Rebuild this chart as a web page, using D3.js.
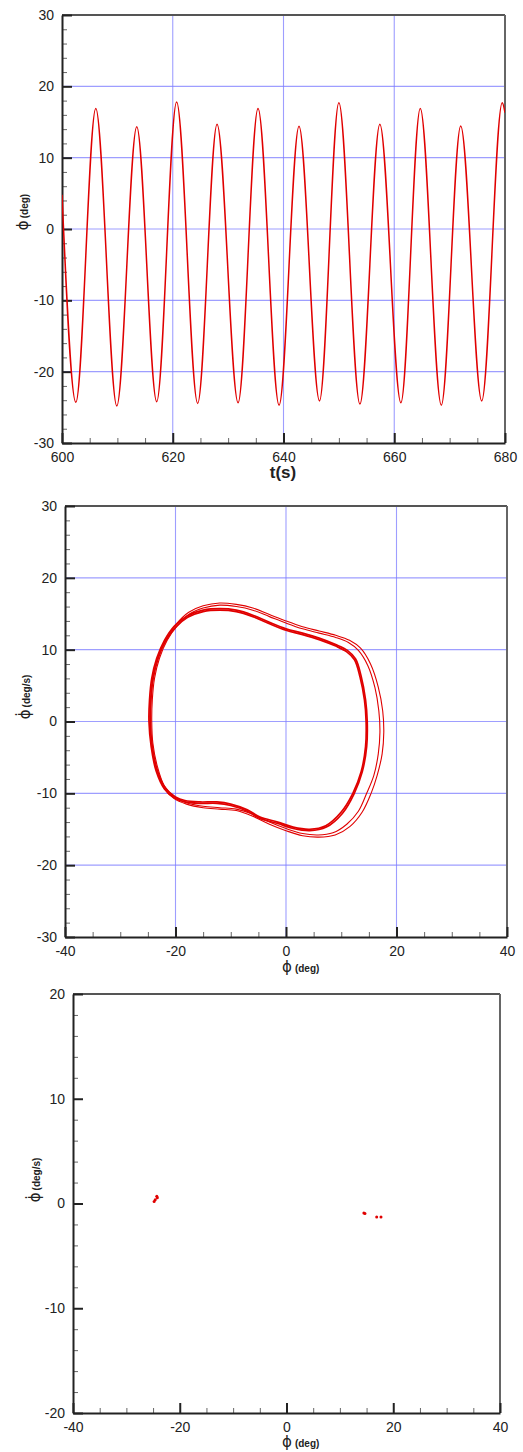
<!DOCTYPE html>
<html>
<head>
<meta charset="utf-8">
<script src="https://cdn.jsdelivr.net/npm/d3@7"></script>
<style>
  body { margin: 0; background: #fff; }
  svg { display: block; }
  .tick text { font-family: "Liberation Sans", Arial, sans-serif; font-size: 14px; fill: #222; }
</style>
</head>
<body>
<svg id="fig" width="523" height="1452"></svg>
<script>
// ---- Roll angle time history: successive extrema (t in s, phi in deg) ----
const rollTime = [600, 602.5, 606.1, 609.9, 613.5, 617.1, 620.7, 624.5, 628.0, 631.8, 635.4, 639.2,
                  642.8, 646.5, 650.0, 653.8, 657.4, 661.2, 664.7, 668.5, 672.0, 675.8, 679.5, 680];
const rollAngle = [4.8, -24.3, 16.9, -24.8, 14.35, -24.2, 17.8, -24.45, 14.7, -24.35, 16.9, -24.7,
                   14.4, -24.1, 17.7, -24.55, 14.7, -24.35, 16.9, -24.7, 14.45, -24.1, 17.7, 16.3];

// ---- Phase-plane orbits (phi, phi-dot) ----
const innerOrbitA = [
  [-24.6, 0], [-24.5, 3], [-24.1, 6], [-23.2, 8.8], [-21.8, 11.2], [-20.0, 13.1], [-17.8, 14.5],
  [-15.0, 15.3], [-12.0, 15.5], [-9.0, 15.3], [-6.0, 14.6], [-3.0, 13.6], [0.0, 12.7], [3.0, 12.1],
  [6.0, 11.4], [9.0, 10.5], [11.0, 9.7], [12.4, 8.6], [13.4, 6.2], [14.2, 3.0], [14.5, 0.0],
  [14.4, -3.5], [13.6, -7.0], [12.1, -10.0], [10.0, -12.6], [7.2, -14.5], [4.3, -15.0], [1.3, -14.7],
  [-1.5, -14.0], [-4.7, -13.3], [-7.0, -12.3], [-10.0, -11.5], [-12.5, -11.2], [-15.6, -11.2],
  [-18.3, -11.0], [-20.0, -10.5], [-21.8, -9.3], [-23.3, -6.8], [-24.2, -3.5]
];
const innerOrbitB = [
  [-24.8, 0], [-24.7, 3], [-24.3, 6], [-23.4, 8.8], [-22.0, 11.3], [-20.2, 13.3], [-17.9, 14.7],
  [-15.0, 15.5], [-12.0, 15.7], [-9.0, 15.5], [-6.0, 14.8], [-3.0, 13.8], [0.0, 12.9], [3.0, 12.3],
  [6.0, 11.6], [9.0, 10.7], [11.1, 9.9], [12.6, 8.7], [13.6, 6.3], [14.4, 3.0], [14.7, 0.0],
  [14.6, -3.5], [13.8, -7.0], [12.3, -10.1], [10.2, -12.8], [7.3, -14.7], [4.3, -15.2], [1.3, -14.9],
  [-1.5, -14.2], [-4.7, -13.5], [-7.0, -12.5], [-10.0, -11.7], [-12.5, -11.4], [-15.6, -11.4],
  [-18.3, -11.2], [-20.1, -10.7], [-22.0, -9.4], [-23.5, -6.9], [-24.4, -3.5]
];
const outerOrbitA = [
  [-24.3, 0], [-24.2, 3], [-23.8, 6], [-22.9, 8.8], [-21.5, 11.3], [-19.6, 13.4], [-17.4, 15.0],
  [-15.0, 15.8], [-12.0, 16.2], [-9.0, 16.0], [-6.0, 15.5], [-3.0, 14.6], [0.0, 13.7], [3.0, 12.9],
  [6.0, 12.3], [9.0, 11.7], [11.3, 11.0], [13.1, 9.9], [14.8, 7.8], [16.1, 4.7], [16.8, 1.5],
  [17.0, -1.5], [16.7, -4.5], [15.9, -7.5], [14.6, -10.0], [13.1, -12.5], [11.0, -14.3], [8.5, -15.5],
  [5.8, -15.8], [3.0, -15.6], [0.0, -14.9], [-3.0, -14.0], [-6.0, -12.9], [-9.0, -12.2], [-12.0, -12.0],
  [-15.0, -11.8], [-18.0, -11.3], [-20.2, -10.5], [-22.0, -9.0], [-23.3, -6.2], [-24.1, -3.0]
];
const outerOrbitB = [
  [-24.5, 0], [-24.4, 3], [-24.0, 6], [-23.1, 8.8], [-21.7, 11.4], [-19.8, 13.6], [-17.6, 15.2],
  [-15.0, 16.1], [-12.0, 16.5], [-9.0, 16.3], [-6.0, 15.8], [-3.0, 14.9], [0.0, 14.0], [3.0, 13.2],
  [6.0, 12.6], [9.0, 12.0], [11.5, 11.3], [13.5, 10.2], [15.3, 8.0], [16.7, 4.8], [17.5, 1.5],
  [17.7, -1.5], [17.4, -4.5], [16.5, -7.5], [15.4, -10.0], [13.8, -12.6], [11.6, -14.6], [8.9, -15.8],
  [5.9, -16.1], [3.0, -15.9], [0.0, -15.2], [-3.0, -14.3], [-6.0, -13.2], [-9.0, -12.4], [-12.0, -12.2],
  [-15.0, -12.0], [-18.0, -11.5], [-20.3, -10.7], [-22.2, -9.1], [-23.5, -6.3], [-24.3, -3.0]
];

// ---- Poincare section points (phi, phi-dot) ----
const sectionPhi = [-24.8, -24.6, -24.3, -24.2, 14.5, 14.7, 16.9, 17.7];
const sectionRate = [0.2, 0.35, 0.7, 0.55, -0.9, -0.95, -1.3, -1.3];

// ---- Tick values ----
const timeMajor = [600, 620, 640, 660, 680];
const timeMinor = [605, 610, 615, 625, 630, 635, 645, 650, 655, 665, 670, 675];
const angleMajor = [-30, -20, -10, 0, 10, 20, 30];
const angleMinor = [-28, -26, -24, -22, -18, -16, -14, -12, -8, -6, -4, -2, 2, 4, 6, 8, 12, 14, 16, 18, 22, 24, 26, 28];
const phiMajor = [-40, -20, 0, 20, 40];
const phiMinor = [-35, -30, -25, -15, -10, -5, 5, 10, 15, 25, 30, 35];
const rateMajor = [-20, -10, 0, 10, 20];
const rateMinor = [-18, -16, -14, -12, -8, -6, -4, -2, 2, 4, 6, 8, 12, 14, 16, 18];

const RED = "#e00000";
const GRID = "#7d7dff";
const svg = d3.select("#fig");

function drawFrame(g, x, y, o) {
  const [xa, xb] = x.range();
  const [yb, ya] = y.range();
  const [dx0, dx1] = x.domain();
  const [dy0, dy1] = y.domain();
  if (o.grid) {
    g.append("g").selectAll("line").data(o.xMajor.filter(v => v > dx0 && v < dx1)).join("line")
      .attr("x1", d => x(d)).attr("x2", d => x(d)).attr("y1", ya).attr("y2", yb)
      .attr("stroke", GRID).attr("stroke-width", 1.1).attr("stroke-opacity", 0.75);
    g.append("g").selectAll("line").data(o.yMajor.filter(v => v > dy0 && v < dy1)).join("line")
      .attr("y1", d => y(d)).attr("y2", d => y(d)).attr("x1", xa).attr("x2", xb)
      .attr("stroke", GRID).attr("stroke-width", 1.1).attr("stroke-opacity", 0.75);
  }
  // top and right frame edges
  g.append("line").attr("x1", xa).attr("x2", xb).attr("y1", ya).attr("y2", ya)
    .attr("stroke", "#555").attr("stroke-width", 2);
  g.append("line").attr("x1", xb).attr("x2", xb).attr("y1", ya).attr("y2", yb)
    .attr("stroke", "#666").attr("stroke-width", 2);

  const fmt = d => String(d);
  // minor ticks
  g.append("g").attr("transform", `translate(0,${yb})`)
    .call(d3.axisBottom(x).tickValues(o.xMinor).tickSizeInner(-5).tickSizeOuter(0).tickFormat(""))
    .call(s => s.select(".domain").remove())
    .call(s => s.selectAll("line").attr("stroke", "#666").attr("stroke-width", 1));
  g.append("g").attr("transform", `translate(${xa},0)`)
    .call(d3.axisLeft(y).tickValues(o.yMinor).tickSizeInner(-5).tickSizeOuter(0).tickFormat(""))
    .call(s => s.select(".domain").remove())
    .call(s => s.selectAll("line").attr("stroke", "#666").attr("stroke-width", 1));
  // major ticks with labels
  g.append("g").attr("transform", `translate(0,${yb})`)
    .call(d3.axisBottom(x).tickValues(o.xMajor).tickSizeInner(-10).tickSizeOuter(0).tickPadding(9).tickFormat(fmt))
    .call(s => s.select(".domain").attr("stroke", "#222").attr("stroke-width", 2))
    .call(s => s.selectAll(".tick line").attr("stroke", "#222").attr("stroke-width", 2));
  g.append("g").attr("transform", `translate(${xa},0)`)
    .call(d3.axisLeft(y).tickValues(o.yMajor).tickSizeInner(-10).tickSizeOuter(0).tickPadding(8).tickFormat(fmt))
    .call(s => s.select(".domain").attr("stroke", "#222").attr("stroke-width", 2))
    .call(s => s.selectAll(".tick line").attr("stroke", "#222").attr("stroke-width", 2));
  g.selectAll(".tick text").attr("font-family", null).attr("font-size", null);
}

function clipFor(id, x, y) {
  svg.append("clipPath").attr("id", id).append("rect")
    .attr("x", x.range()[0]).attr("y", y.range()[1])
    .attr("width", x.range()[1] - x.range()[0]).attr("height", y.range()[0] - y.range()[1]);
  return `url(#${id})`;
}

function yTitle(cx, cy, dotted) {
  const t = svg.append("text").attr("transform", `translate(${cx},${cy}) rotate(-90)`)
    .attr("text-anchor", "middle").attr("fill", "#222");
  t.append("tspan").attr("font-family", "DejaVu Sans, sans-serif").attr("font-size", 15)
    .text(dotted ? "\u03D5\u0307" : "\u03D5");
  t.append("tspan").attr("font-family", "Liberation Sans, Arial, sans-serif").attr("font-size", 10)
    .attr("font-weight", "bold").attr("dx", 2).text("(deg" + (dotted ? "/s)" : ")"));
}
function xPhiTitle(x0, y0) {
  const t = svg.append("text").attr("x", x0).attr("y", y0).attr("fill", "#222");
  t.append("tspan").attr("font-family", "DejaVu Sans, sans-serif").attr("font-size", 15).text("\u03D5");
  t.append("tspan").attr("font-family", "Liberation Sans, Arial, sans-serif").attr("font-size", 10)
    .attr("font-weight", "bold").attr("dx", 3).text("(deg)");
}

// ===== Panel 1: roll angle vs time =====
{
  const x = d3.scaleLinear().domain([600, 680]).range([62, 505]);
  const y = d3.scaleLinear().domain([-30, 30]).range([443, 15]);
  const g = svg.append("g");
  drawFrame(g, x, y, { grid: true, xMajor: timeMajor, xMinor: timeMinor, yMajor: angleMajor, yMinor: angleMinor });
  const line = d3.line().x((d, i) => x(rollTime[i])).y(d => y(d)).curve(d3.curveMonotoneX);
  svg.append("path").datum(rollAngle).attr("d", line).attr("fill", "none")
    .attr("stroke", RED).attr("stroke-width", 1.5).attr("clip-path", clipFor("c1", x, y));
  svg.append("text").attr("x", 283).attr("y", 478).attr("text-anchor", "middle")
    .attr("font-family", "Liberation Sans, Arial, sans-serif").attr("font-size", 17)
    .attr("font-weight", "bold").attr("fill", "#222").text("t(s)");
  yTitle(28, 212, false);
}

// ===== Panel 2: phase plane =====
{
  const x = d3.scaleLinear().domain([-40, 40]).range([65, 507]);
  const y = d3.scaleLinear().domain([-30, 30]).range([937, 506]);
  const g = svg.append("g");
  drawFrame(g, x, y, { grid: true, xMajor: phiMajor, xMinor: phiMinor, yMajor: angleMajor, yMinor: angleMinor });
  const loop = d3.line().x(d => x(d[0])).y(d => y(d[1])).curve(d3.curveCatmullRomClosed.alpha(0.5));
  const clip = clipFor("c2", x, y);
  [[innerOrbitA, 1.7], [innerOrbitB, 1.7], [outerOrbitA, 1.1], [outerOrbitB, 1.1]].forEach(([pts, w]) => {
    svg.append("path").datum(pts).attr("d", loop).attr("fill", "none")
      .attr("stroke", RED).attr("stroke-width", w).attr("clip-path", clip);
  });
  yTitle(30, 697, true);
  xPhiTitle(282, 972);
}

// ===== Panel 3: Poincare section =====
{
  const x = d3.scaleLinear().domain([-40, 40]).range([73, 500]);
  const y = d3.scaleLinear().domain([-20, 20]).range([1413, 994]);
  const g = svg.append("g");
  drawFrame(g, x, y, { grid: false, xMajor: phiMajor, xMinor: phiMinor, yMajor: rateMajor, yMinor: rateMinor });
  svg.append("g").selectAll("circle").data(sectionPhi).join("circle")
    .attr("cx", d => x(d)).attr("cy", (d, i) => y(sectionRate[i])).attr("r", 1.5).attr("fill", RED);
  yTitle(40, 1180, true);
  xPhiTitle(282, 1447);
}
</script>
</body>
</html>
